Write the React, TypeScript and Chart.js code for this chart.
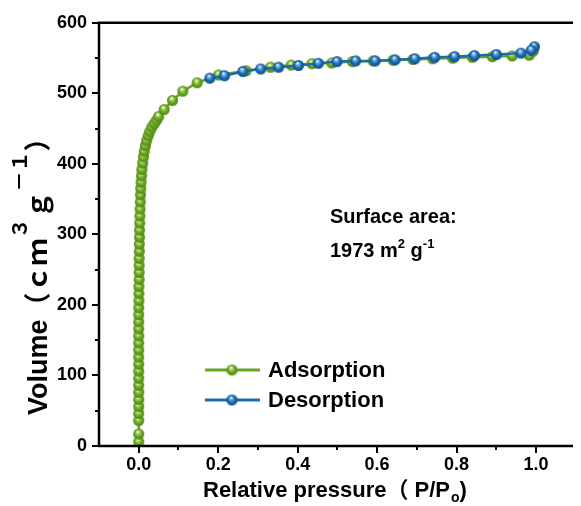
import React, { useEffect, useRef } from "react";
import { Chart, registerables } from "chart.js";

Chart.register(...registerables);

// ---- data ----
const adsorptionX = [
  0.0, 0.0, 0.0, 0.0, 0.0, 0.0, 0.0, 0.0, 0.0, 0.0, 0.0, 0.0, 0.0, 0.0, 0.0, 0.0, 0.0, 0.0, 0.0,
  0.0005, 0.0005, 0.0005, 0.001, 0.001, 0.001, 0.001, 0.0015, 0.0015, 0.002, 0.002, 0.0025, 0.003,
  0.0035, 0.004, 0.0045, 0.005, 0.006, 0.007, 0.008, 0.01, 0.012, 0.014, 0.017, 0.02, 0.024, 0.028,
  0.033, 0.039, 0.045, 0.05, 0.064, 0.085, 0.111, 0.147, 0.201, 0.27, 0.332, 0.384, 0.436, 0.486,
  0.538, 0.59, 0.64, 0.69, 0.74, 0.79, 0.84, 0.89, 0.94, 0.983, 0.993,
];
const adsorptionY = [
  6, 17, 36, 46, 56, 66, 76, 86, 96, 106, 116, 126, 136, 146, 156, 166, 176, 186, 196,
  206, 216, 226, 236, 246, 256, 266, 276, 286, 296, 306, 316, 326,
  336, 346, 356, 365, 374, 383, 392, 401, 410, 418, 426, 433, 440, 446,
  452, 457, 462, 467, 477, 490, 503, 515, 526, 532, 537, 540, 542, 543,
  545, 546, 547, 548, 549, 550, 551, 552, 553, 554, 560,
];
const desorptionX = [
  0.996, 0.988, 0.962, 0.9, 0.845, 0.795, 0.745, 0.695, 0.645, 0.595, 0.546, 0.499, 0.452, 0.402,
  0.352, 0.307, 0.262, 0.216, 0.179,
];
const desorptionY = [
  566, 561, 557, 555, 553.5, 552, 551, 549, 547.5, 546, 546, 545, 542.5, 539.5,
  537, 534.5, 531, 525, 521.5,
];
const xMajorTicks = [0.0, 0.2, 0.4, 0.6, 0.8, 1.0];
const xMinorTicks = [0.1, 0.3, 0.5, 0.7, 0.9];
const yMajorTicks = [0, 100, 200, 300, 400, 500, 600];
const yMinorTicks = [50, 150, 250, 350, 450, 550];
const seriesNames = ["Adsorption", "Desorption"];

const GREEN = "#6aa522";
const BLUE = "#1a6cb2";
const FONT = "'Liberation Sans', Arial, 'Noto Sans CJK SC', sans-serif";
const CJK = "'Noto Sans CJK SC', 'Liberation Sans', sans-serif";

function makeSphere(base: string, light: string, dark: string, r: number) {
  const size = Math.ceil(r * 2) + 2;
  const c = document.createElement("canvas");
  c.width = size;
  c.height = size;
  const ctx = c.getContext("2d")!;
  const cx = size / 2;
  const cy = size / 2;
  const g = ctx.createRadialGradient(cx - r * 0.2, cy - r * 0.45, r * 0.05, cx, cy, r);
  g.addColorStop(0, "#ffffff");
  g.addColorStop(0.22, light);
  g.addColorStop(0.6, base);
  g.addColorStop(1, dark);
  ctx.fillStyle = g;
  ctx.beginPath();
  ctx.arc(cx, cy, r, 0, Math.PI * 2);
  ctx.fill();
  return c;
}

export default function App() {
  const ref = useRef<HTMLCanvasElement | null>(null);

  useEffect(() => {
    const canvas = ref.current!;
    const greenBall = makeSphere(GREEN, "#b6dc7a", "#4f8a12", 5.5);
    const blueBall = makeSphere(BLUE, "#7fb4e6", "#0f4f8a", 5.5);

    const axesPlugin = {
      id: "axesPlugin",
      afterDatasetsDraw(chart: any) {
        const { ctx, chartArea: a, scales } = chart;
        const xs = scales.x;
        const ys = scales.y;
        ctx.save();
        ctx.strokeStyle = "#000";
        ctx.lineWidth = 2.5;
        ctx.lineCap = "butt";
        ctx.beginPath();
        ctx.moveTo(a.left, a.top);
        ctx.lineTo(a.right, a.top);
        ctx.moveTo(a.left, a.top - 1.25);
        ctx.lineTo(a.left, a.bottom + 1.25);
        ctx.moveTo(a.left - 1.25, a.bottom);
        ctx.lineTo(a.right, a.bottom);
        ctx.stroke();
        ctx.lineWidth = 2;
        ctx.beginPath();
        for (const v of yMajorTicks) {
          const y = Math.round(ys.getPixelForValue(v));
          ctx.moveTo(a.left, y);
          ctx.lineTo(a.left - 7, y);
        }
        for (const v of yMinorTicks) {
          const y = Math.round(ys.getPixelForValue(v));
          ctx.moveTo(a.left, y);
          ctx.lineTo(a.left - 4, y);
        }
        for (const v of xMajorTicks) {
          const x = Math.round(xs.getPixelForValue(v));
          ctx.moveTo(x, a.bottom);
          ctx.lineTo(x, a.bottom + 7);
        }
        for (const v of xMinorTicks) {
          const x = Math.round(xs.getPixelForValue(v));
          ctx.moveTo(x, a.bottom);
          ctx.lineTo(x, a.bottom + 4);
        }
        ctx.stroke();
        ctx.restore();
      },
      afterDraw(chart: any) {
        const { ctx } = chart;
        ctx.save();
        ctx.fillStyle = "#000";
        ctx.textBaseline = "alphabetic";
        ctx.textAlign = "left";

        // x title
        let x = 203;
        const by = 497;
        ctx.font = `bold 22px ${FONT}`;
        let t = "Relative pressure（ P/P";
        ctx.fillText(t, x, by);
        x += ctx.measureText(t).width;
        ctx.font = `bold 14px ${FONT}`;
        ctx.fillText("o", x + 1, by + 5);
        x += ctx.measureText("o").width + 1;
        ctx.font = `bold 22px ${FONT}`;
        ctx.fillText(")", x, by);

        // y title
        ctx.save();
        ctx.translate(47, 415);
        ctx.rotate(-Math.PI / 2);
        let p = 0;
        const seg = (s: string, family: string, size: number, dy: number) => {
          ctx.font = `bold ${size}px ${family}`;
          ctx.fillText(s, p, dy);
          p += ctx.measureText(s).width;
        };
        seg("Volume", FONT, 27, 0);
        seg("（ｃｍ", CJK, 27, 0);
        seg("３", CJK, 20, -20);
        seg("ｇ", CJK, 27, 0);
        seg("－１", CJK, 20, -20);
        seg("）", CJK, 27, 0);
        ctx.restore();

        // annotation
        ctx.font = `bold 20px ${FONT}`;
        ctx.fillText("Surface area:", 330, 223);
        x = 330;
        const ay = 257;
        const seg2 = (s: string, size: number, dy: number) => {
          ctx.font = `bold ${size}px ${FONT}`;
          ctx.fillText(s, x, ay + dy);
          x += ctx.measureText(s).width;
        };
        seg2("1973 m", 20, 0);
        seg2("2", 13, -9);
        seg2(" g", 20, 0);
        seg2("-1", 13, -9);

        // legend
        const items = [
          { label: seriesNames[0], color: GREEN, img: greenBall, y: 370 },
          { label: seriesNames[1], color: BLUE, img: blueBall, y: 400 },
        ];
        for (const it of items) {
          ctx.strokeStyle = it.color;
          ctx.lineWidth = 3;
          ctx.beginPath();
          ctx.moveTo(205, it.y);
          ctx.lineTo(260, it.y);
          ctx.stroke();
          ctx.drawImage(it.img, 232 - it.img.width / 2, it.y - it.img.height / 2);
          ctx.font = `bold 22px ${FONT}`;
          ctx.textBaseline = "middle";
          ctx.fillText(it.label, 268, it.y + 1);
        }
        ctx.restore();
      },
    };

    const chart = new Chart(canvas, {
      type: "line",
      data: {
        datasets: [
          {
            label: seriesNames[0],
            data: adsorptionX.map((v, i) => ({ x: v, y: adsorptionY[i] })),
            borderColor: GREEN,
            backgroundColor: GREEN,
            borderWidth: 2.5,
            pointStyle: greenBall as any,
            pointRadius: 5.5,
            tension: 0,
            order: 2,
            clip: 0 as any,
          },
          {
            label: seriesNames[1],
            data: desorptionX.map((v, i) => ({ x: v, y: desorptionY[i] })),
            borderColor: BLUE,
            backgroundColor: BLUE,
            borderWidth: 2.5,
            pointStyle: blueBall as any,
            pointRadius: 5.5,
            tension: 0,
            order: 1,
            clip: 0 as any,
          },
        ],
      },
      options: {
        responsive: false,
        animation: false,
        devicePixelRatio: 1,
        layout: { padding: { top: 22, right: 0, left: 0, bottom: 0 } },
        plugins: { legend: { display: false }, tooltip: { enabled: false } },
        scales: {
          x: {
            type: "linear",
            min: -0.1,
            max: 1.093,
            grid: { display: false, drawTicks: false },
            border: { display: false },
            afterBuildTicks: (s: any) => {
              s.ticks = xMajorTicks.map((v) => ({ value: v }));
            },
            afterFit: (s: any) => {
              s.height = 60;
            },
            ticks: {
              color: "#000",
              padding: 8,
              maxRotation: 0,
              autoSkip: false,
              font: { family: FONT, size: 18, weight: "bold" },
              callback: (v: any) => Number(v).toFixed(1),
            },
          },
          y: {
            type: "linear",
            min: 0,
            max: 600,
            grid: { display: false, drawTicks: false },
            border: { display: false },
            afterBuildTicks: (s: any) => {
              s.ticks = yMajorTicks.map((v) => ({ value: v }));
            },
            afterFit: (s: any) => {
              s.width = 99;
            },
            ticks: {
              color: "#000",
              padding: 12,
              autoSkip: false,
              font: { family: FONT, size: 18, weight: "bold" },
              callback: (v: any) => String(v),
            },
          },
        },
      },
      plugins: [axesPlugin],
    });
    return () => chart.destroy();
  }, []);

  return (
    <div style={{ position: "fixed", left: 0, top: 0, width: 581, height: 506, background: "#fff" }}>
      <canvas ref={ref} width={581} height={506} style={{ display: "block" }} />
    </div>
  );
}
